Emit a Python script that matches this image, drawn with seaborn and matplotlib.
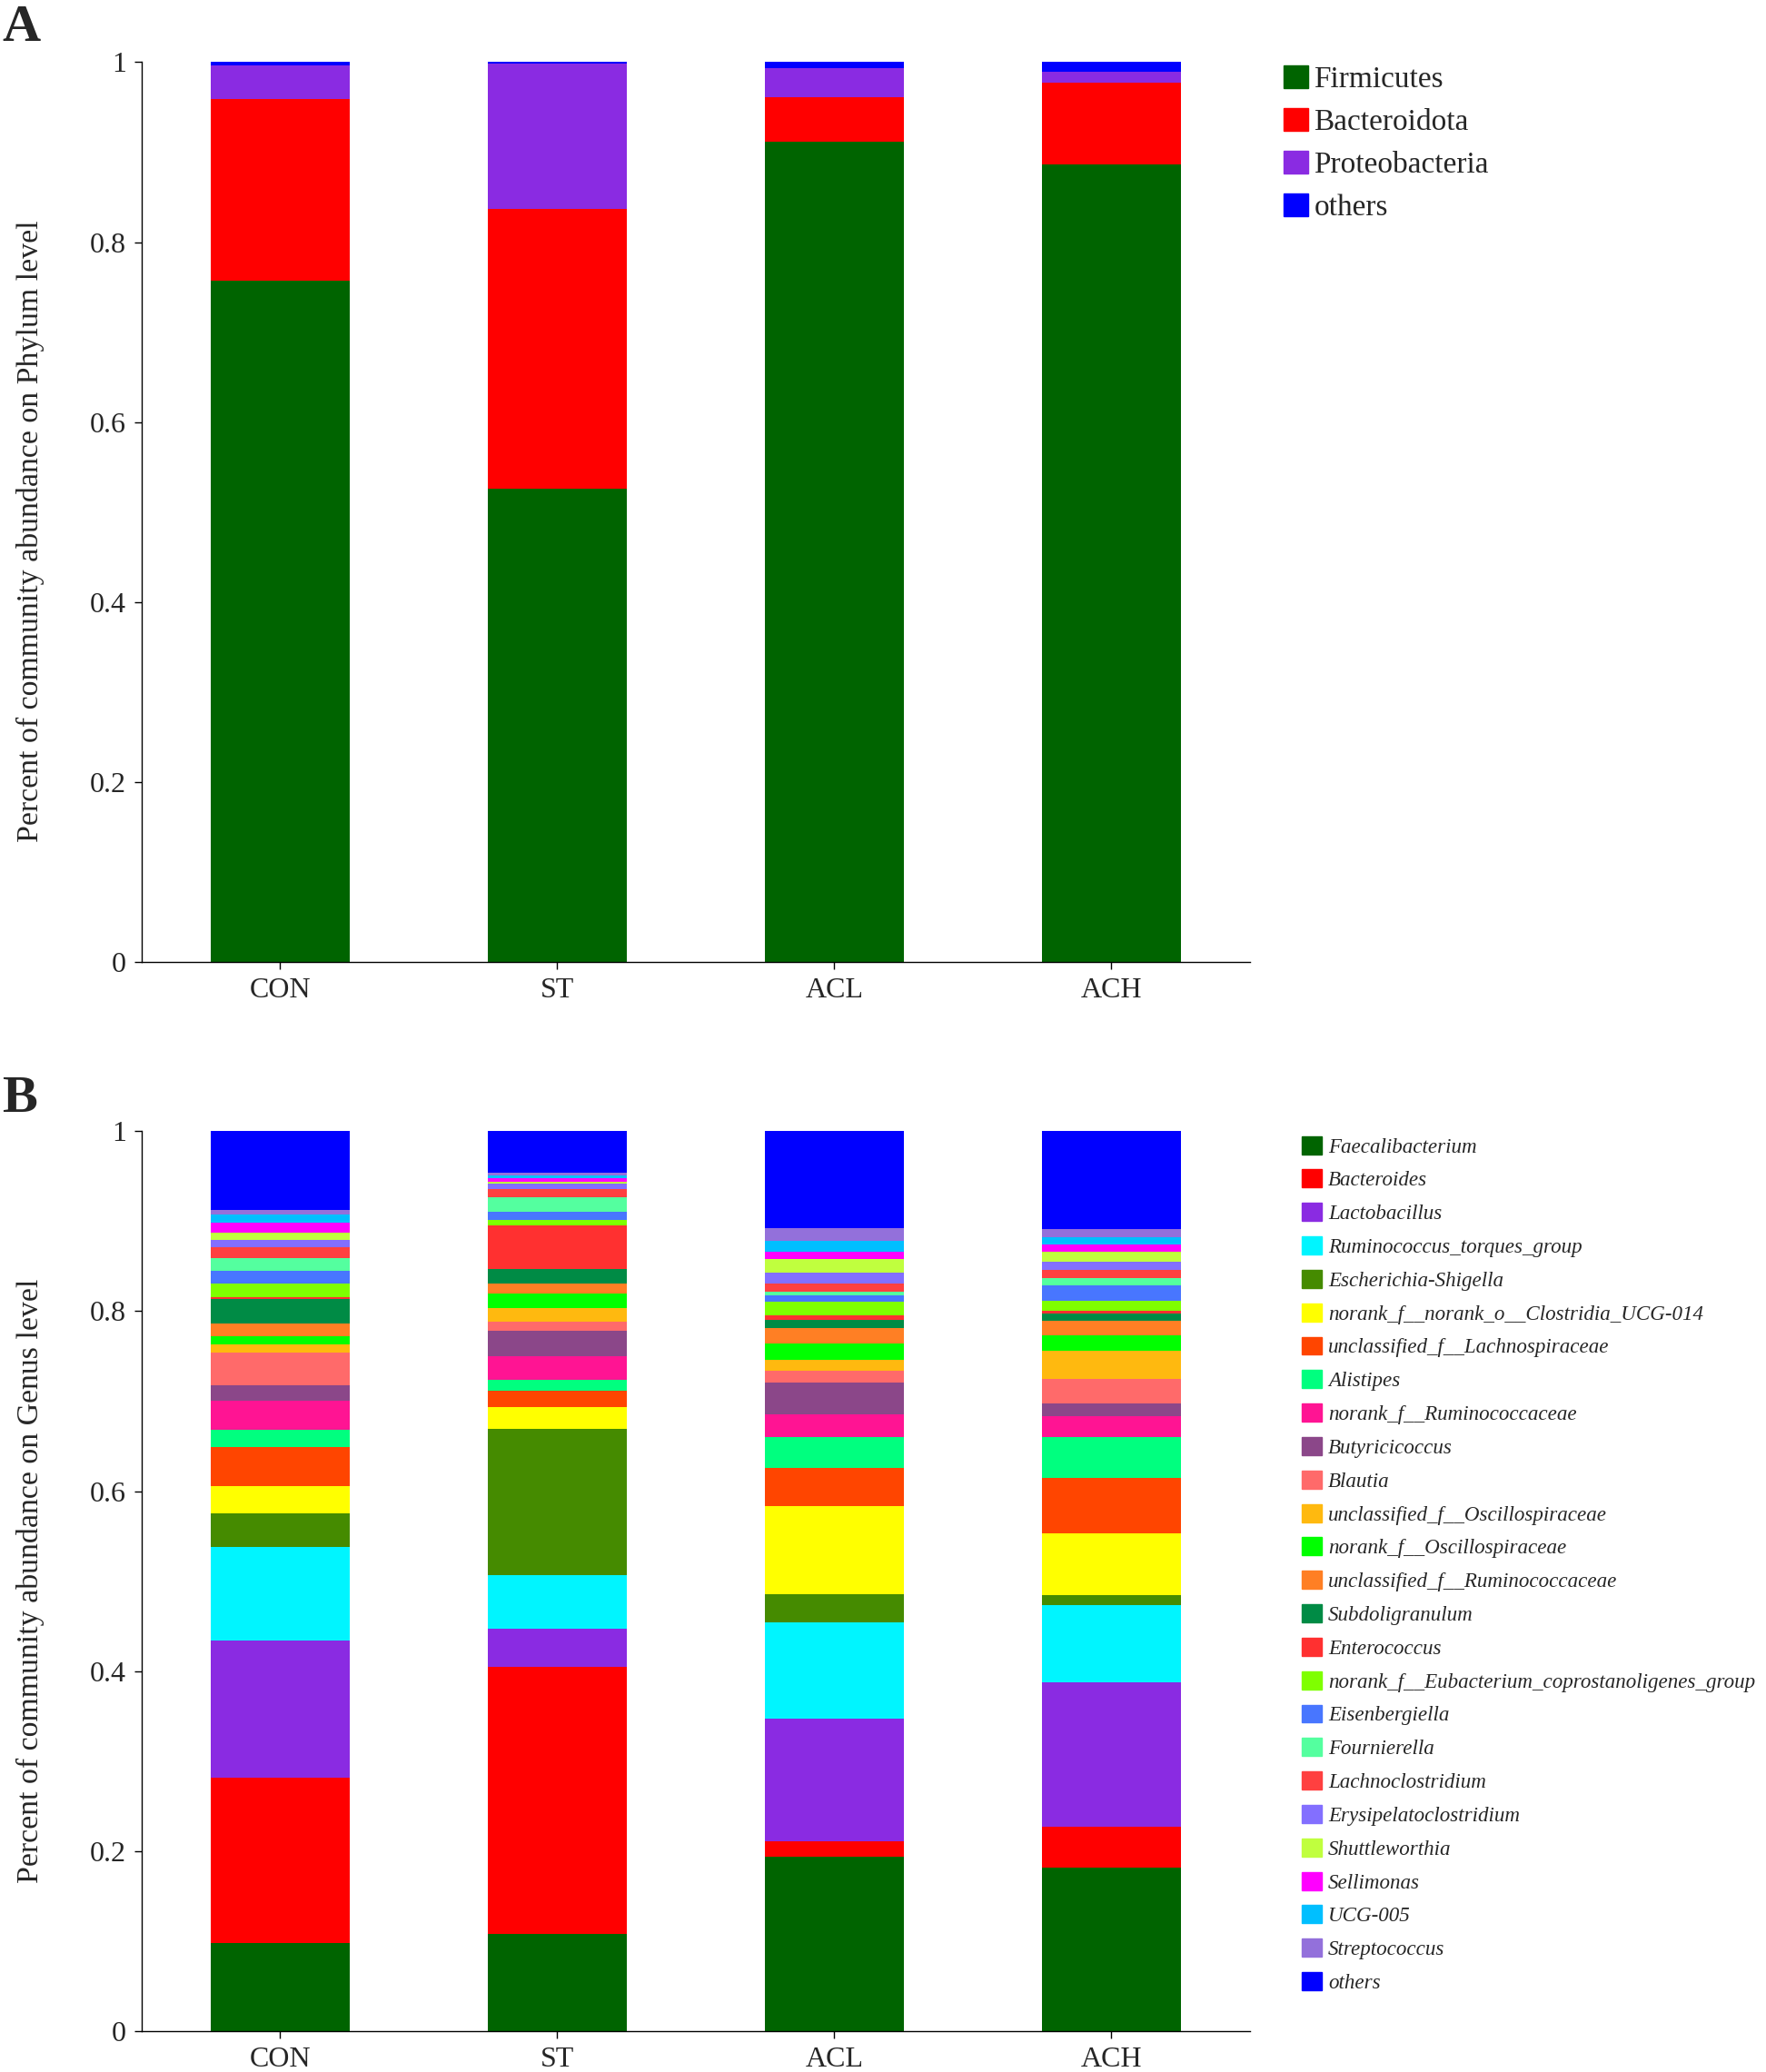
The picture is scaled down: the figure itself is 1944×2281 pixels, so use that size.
import pandas as pd
import matplotlib.pyplot as plt
import seaborn as sns
from matplotlib.patches import Patch

groups = ["CON", "ST", "ACL", "ACH"]

# phylum level (A)
phyla = ["Firmicutes", "Bacteroidota", "Proteobacteria", "others"]
firmicutes = [0.7570, 0.5260, 0.9115, 0.8868]
bacteroidota = [0.2017, 0.3104, 0.0500, 0.0909]
proteobacteria = [0.0379, 0.1621, 0.0314, 0.0115]
phylum_others = [0.0034, 0.0015, 0.0071, 0.0108]
phylum_colors = ["#006400", "#FF0000", "#8A2BE2", "#0000FF"]

# genus level (B), values per group in legend order
genera = ["Faecalibacterium", "Bacteroides", "Lactobacillus", "Ruminococcus_torques_group",
          "Escherichia-Shigella", "norank_f__norank_o__Clostridia_UCG-014",
          "unclassified_f__Lachnospiraceae", "Alistipes", "norank_f__Ruminococcaceae",
          "Butyricicoccus", "Blautia", "unclassified_f__Oscillospiraceae",
          "norank_f__Oscillospiraceae", "unclassified_f__Ruminococcaceae", "Subdoligranulum",
          "Enterococcus", "norank_f__Eubacterium_coprostanoligenes_group", "Eisenbergiella",
          "Fournierella", "Lachnoclostridium", "Erysipelatoclostridium", "Shuttleworthia",
          "Sellimonas", "UCG-005", "Streptococcus", "others"]
genus_colors = ["#006400", "#FF0000", "#8A2BE2", "#00F5FF", "#458B00", "#FFFF00", "#FF4500",
                "#00FF7F", "#FF1493", "#8B4789", "#FF6A6A", "#FFB90F", "#00FF00", "#FF7F24",
                "#008B45", "#FF3030", "#7FFF00", "#4876FF", "#54FF9F", "#FF4040", "#836FFF",
                "#C0FF3E", "#FF00FF", "#00BFFF", "#9370DB", "#0000FF"]
con_genus = [0.0983, 0.1833, 0.1524, 0.1043, 0.0374, 0.0299, 0.0438, 0.0185, 0.0329, 0.0172,
             0.0360, 0.0091, 0.0091, 0.0144, 0.0270, 0.0017, 0.0154, 0.0142, 0.0141, 0.0118,
             0.0084, 0.0084, 0.0111, 0.0091, 0.0050, 0.0872]
st_genus = [0.1077, 0.2971, 0.0425, 0.0595, 0.1621, 0.0242, 0.0189, 0.0117, 0.0260, 0.0285,
            0.0105, 0.0148, 0.0158, 0.0118, 0.0161, 0.0478, 0.0067, 0.0088, 0.0158, 0.0094,
            0.0058, 0.0023, 0.0043, 0.0027, 0.0031, 0.0461]
acl_genus = [0.1942, 0.0167, 0.1362, 0.1070, 0.0310, 0.0986, 0.0424, 0.0344, 0.0252, 0.0353,
             0.0128, 0.0121, 0.0179, 0.0178, 0.0084, 0.0054, 0.0154, 0.0071, 0.0037, 0.0088,
             0.0128, 0.0145, 0.0084, 0.0121, 0.0138, 0.1080]
ach_genus = [0.1816, 0.0454, 0.1605, 0.0858, 0.0111, 0.0691, 0.0615, 0.0455, 0.0229, 0.0141,
             0.0269, 0.0313, 0.0175, 0.0165, 0.0080, 0.0024, 0.0111, 0.0172, 0.0081, 0.0091,
             0.0097, 0.0108, 0.0083, 0.0081, 0.0091, 0.1084]

phylum_df = pd.DataFrame(dict(zip(phyla, [firmicutes, bacteroidota, proteobacteria, phylum_others])),
                         index=groups)
genus_df = pd.DataFrame([con_genus, st_genus, acl_genus, ach_genus], index=groups, columns=genera)

sns.set_theme(style="ticks")
plt.rcParams["font.family"] = ["Liberation Serif", "DejaVu Serif"]

fig = plt.figure(figsize=(19.44, 22.81), dpi=100)
ax_a = fig.add_axes([0.0801, 0.5357, 0.6277, 0.4343])
ax_b = fig.add_axes([0.0801, 0.0197, 0.6277, 0.4344])


def stacked(ax, df, colors, ylabel):
    cum = df.cumsum(axis=1)
    # draw tallest cumulative bar first, each lower one on top of it
    for taxon, col in reversed(list(zip(df.columns, colors))):
        d = pd.DataFrame({"group": groups, "value": cum[taxon].values})
        sns.barplot(data=d, x="group", y="value", color=col, width=0.5, saturation=1,
                    linewidth=0, errorbar=None, ax=ax)
    ax.set_xlim(-0.5, 3.5)
    ax.set_ylim(0, 1)
    ax.set_yticks([0, 0.2, 0.4, 0.6, 0.8, 1])
    ax.set_yticklabels(["0", "0.2", "0.4", "0.6", "0.8", "1"])
    ax.set_xlabel("")
    ax.set_ylabel(ylabel, fontsize=24.4, labelpad=36)
    ax.tick_params(axis="both", labelsize=23, length=6, width=1, color="black", pad=6)
    for s in ["left", "bottom"]:
        ax.spines[s].set_linewidth(1)
        ax.spines[s].set_color("black")
    sns.despine(ax=ax)


stacked(ax_a, phylum_df, phylum_colors, "Percent of community abundance on Phylum level")
stacked(ax_b, genus_df, genus_colors, "Percent of community abundance on Genus level")
ax_a.yaxis.label.set_y(0.479)

handles_a = [Patch(facecolor=c, edgecolor=c) for c in phylum_colors]
fig.legend(handles_a, phyla, loc="upper left", bbox_to_anchor=(0.7269, 0.9685), frameon=False,
           fontsize=24, handlelength=0.8, handleheight=0.8, handletextpad=0.2,
           labelspacing=0.47, borderpad=0, borderaxespad=0)

handles_b = [Patch(facecolor=c, edgecolor=c) for c in genus_colors]
fig.legend(handles_b, genera, loc="upper left", bbox_to_anchor=(0.7372, 0.4517), frameon=False,
           prop={"family": "Liberation Serif", "style": "italic", "size": 16.6},
           handlelength=0.95, handleheight=0.95, handletextpad=0.3,
           labelspacing=0.605, borderpad=0, borderaxespad=0)

fig.text(0.001, 0.998, "A", fontsize=42, fontweight="bold", va="top", ha="left")
fig.text(0.001, 0.481, "B", fontsize=42, fontweight="bold", va="top", ha="left")

fig.savefig("out.png", dpi=100)
